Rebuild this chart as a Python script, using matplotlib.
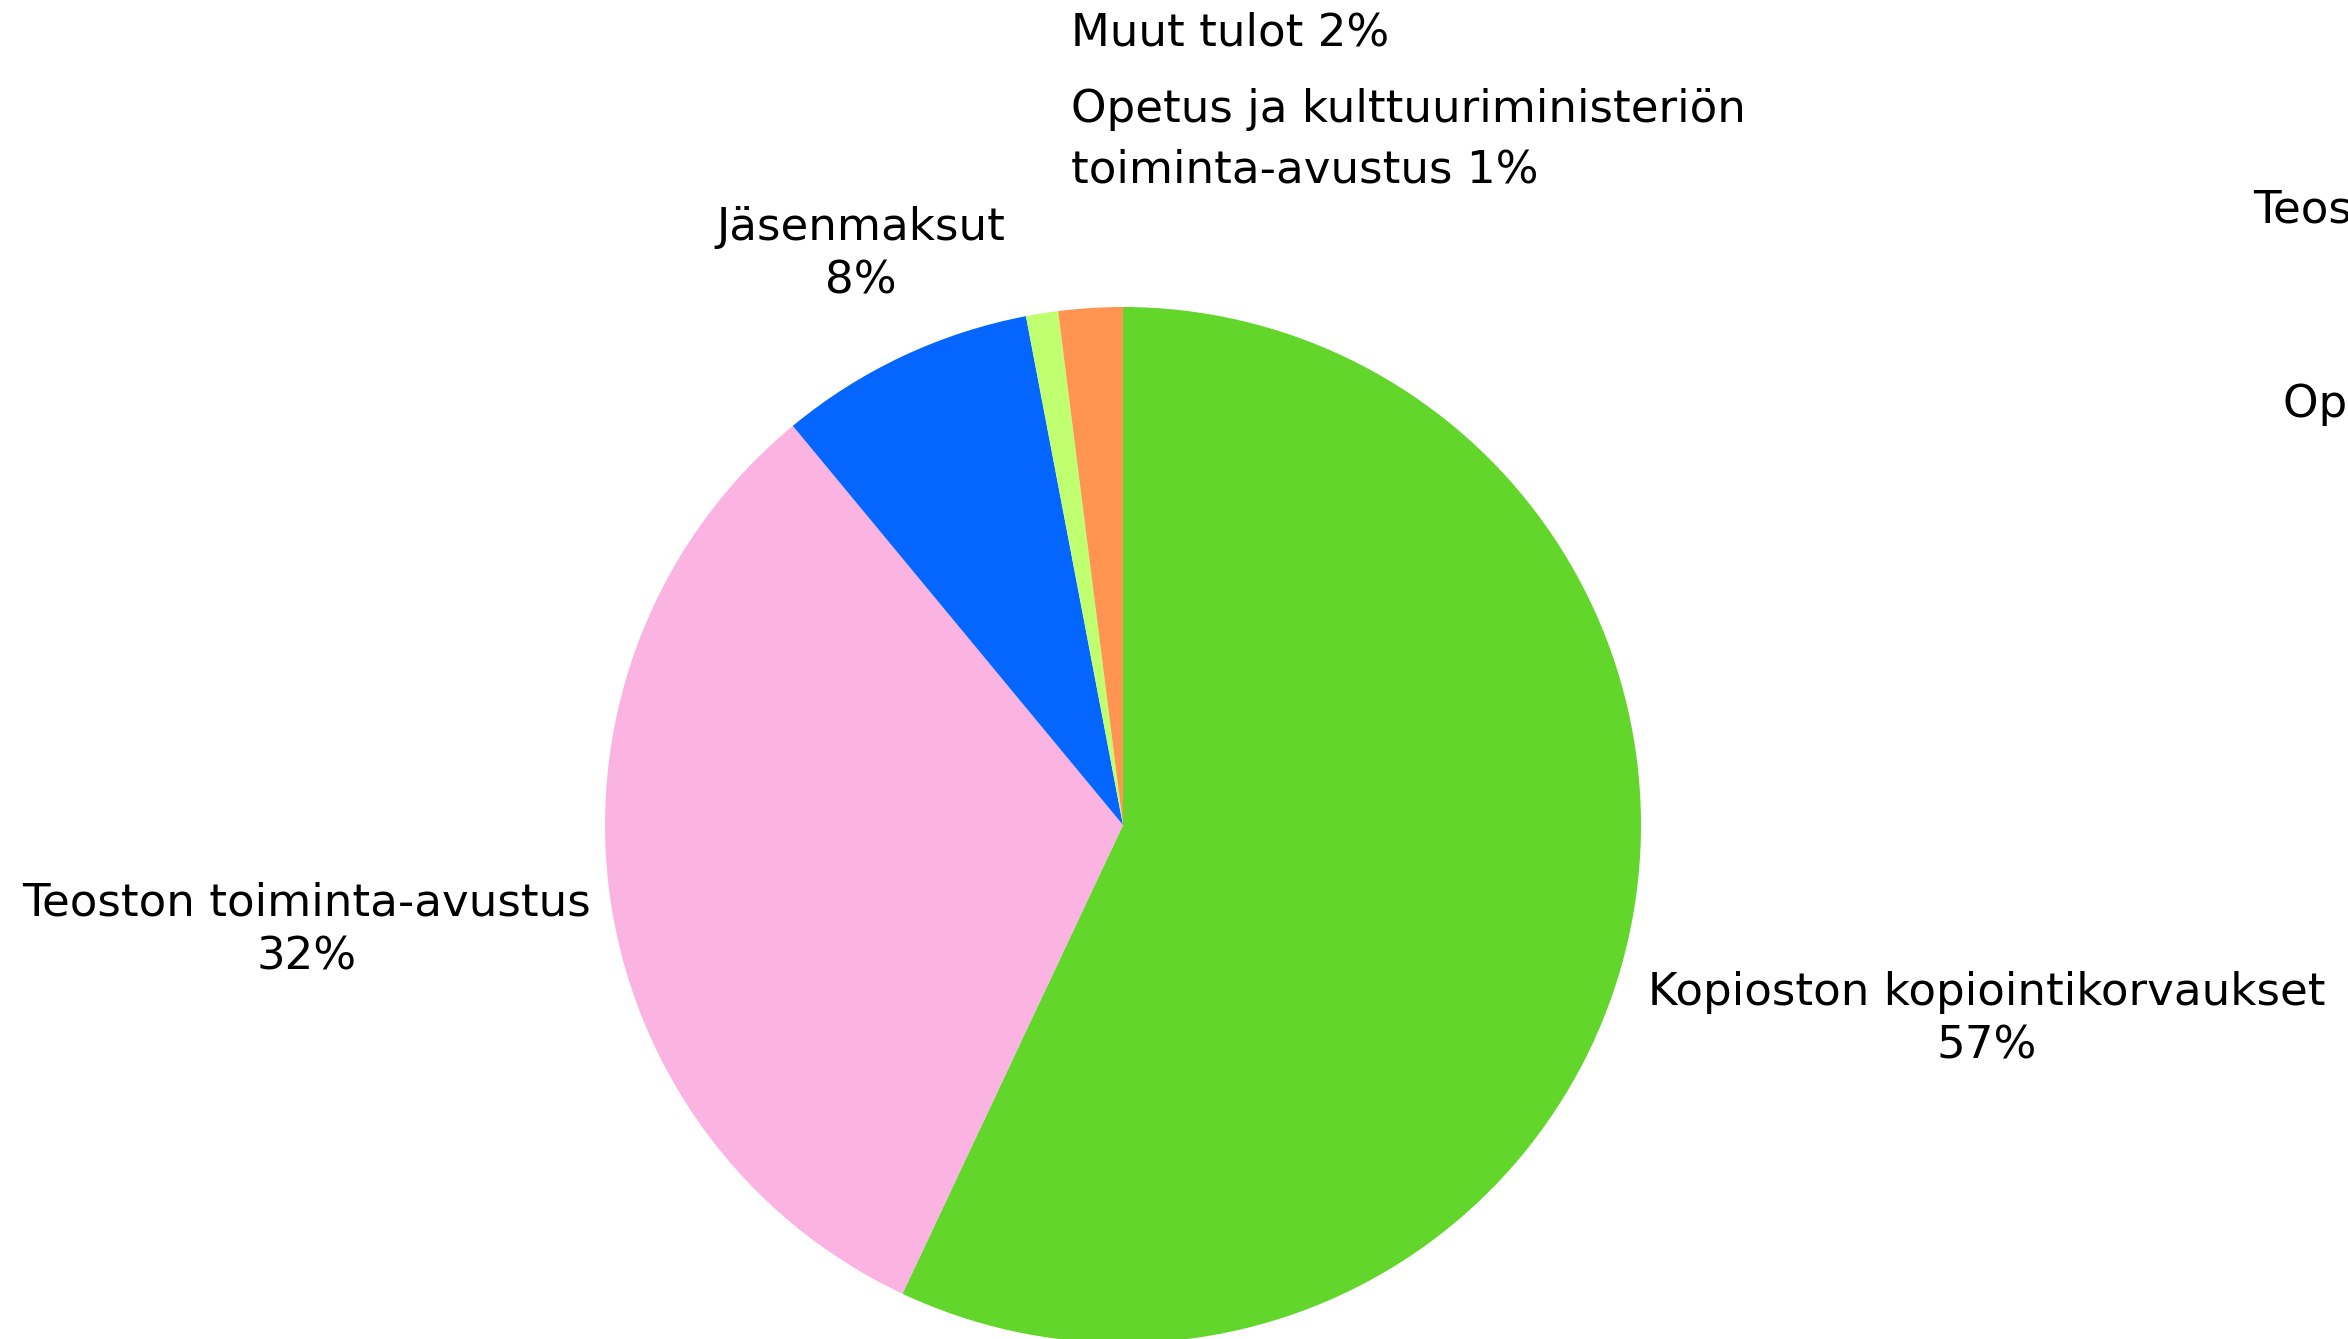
import matplotlib
matplotlib.use("Agg")
import matplotlib.pyplot as plt

categories = ["Kopioston kopiointikorvaukset", "Teoston toiminta-avustus", "Jäsenmaksut",
              "Opetus ja kulttuuriministeriön toiminta-avustus", "Muut tulot"]
values = [57, 32, 8, 1, 2]
colors = ["#62D62A", "#FBB4E1", "#0566FF", "#BFFF70", "#FF9550"]

W, H = 2348, 1339
plt.rcParams['font.family'] = ['DejaVu Sans']
fig = plt.figure(figsize=(W / 100, H / 100), dpi=100)
ax = fig.add_axes([0, 0, 1, 1])
cx, cy, r = 1123, H - 825, 518
ax.pie(values, colors=colors, startangle=90, counterclock=False,
       center=(cx, cy), radius=r, frame=False,
       wedgeprops=dict(linewidth=0))
ax.set_xlim(0, W)
ax.set_ylim(0, H)
ax.set_aspect('equal')
ax.axis('off')

fs = 32.5
def t(x, y, s, ha='center', ls=1.32):
    ax.text(x, H - y, s, ha=ha, va='center', fontsize=fs, color='black', linespacing=ls)

t(1071, 33, f"{categories[4]} {values[4]}%", ha='left')
t(1071, 140, "Opetus ja kulttuuriministeriön\ntoiminta-avustus " + f"{values[3]}%", ha='left', ls=1.52)
t(861, 254, f"{categories[2]}\n{values[2]}%")
t(307, 930, f"{categories[1]}\n{values[1]}%")
t(1987, 1019, f"{categories[0]}\n{values[0]}%")
# clipped legend-like labels at the right edge (cut off in the reference too)
t(2253, 210, categories[1], ha='left')
t(2283, 404, categories[3], ha='left')

fig.savefig("out.png", dpi=100)
